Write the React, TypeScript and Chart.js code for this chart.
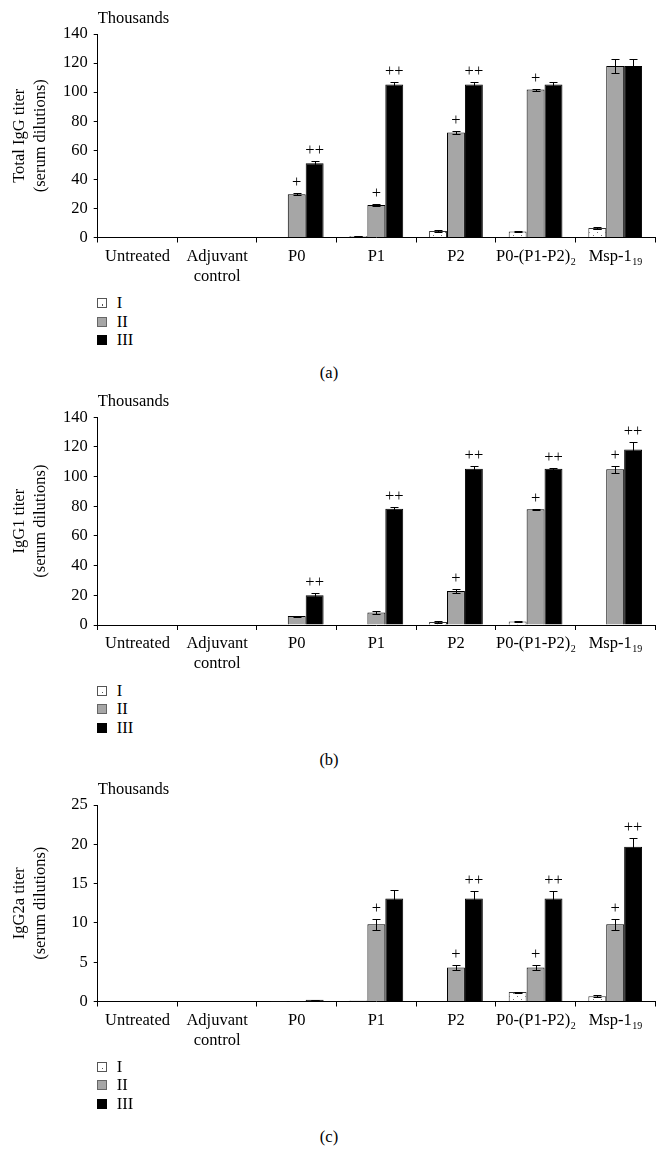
import React, { useEffect, useRef } from 'react';
import { Chart, registerables } from 'chart.js';

Chart.register(...registerables);

const FONT = '"Liberation Serif", "Times New Roman", serif';
const FS = 16.5;

// ---------- shared categories / series ----------
const categoryLines: string[][] = [
  ['Untreated'],
  ['Adjuvant', 'control'],
  ['P0'],
  ['P1'],
  ['P2'],
  ['P0-(P1-P2)'],
  ['Msp-1'],
];
const categorySubscripts = ['', '', '', '', '', '2', '19'];
const seriesNames = ['I', 'II', 'III'];
const noMarks = ['', '', '', '', '', '', ''];

// ---------- (a) Total IgG titer, thousands ----------
const totalIgG_I = [0, 0, 0.3, 1.0, 4.5, 4.1, 6.6];
const totalIgG_II = [0, 0, 29.7, 22.3, 72.3, 101.8, 118];
const totalIgG_III = [0, 0, 51, 105.3, 105.3, 105.3, 118];
const totalIgG_errI = [0, 0, 0, 0.3, 0.6, 0.5, 0.7];
const totalIgG_errII = [0, 0, 0.6, 0.8, 1.3, 0.7, 5];
const totalIgG_errIII = [0, 0, 1.6, 1.8, 1.8, 1.8, 5];
const totalIgG_marksII = ['', '', '+', '+', '+', '+', ''];
const totalIgG_marksIII = ['', '', '++', '++', '++', '', ''];
const totalIgG_ticks = { max: 140, step: 20 };

// ---------- (b) IgG1 titer, thousands ----------
const igG1_I = [0, 0, 0.2, 0.4, 2.0, 2.4, 0.4];
const igG1_II = [0, 0, 6, 8.5, 23, 78, 105];
const igG1_III = [0, 0, 20, 78.3, 105.3, 105.3, 118.3];
const igG1_errI = [0, 0, 0, 0, 0.6, 0.3, 0];
const igG1_errII = [0, 0, 0.4, 1, 1.6, 0.3, 2.5];
const igG1_errIII = [0, 0, 1.5, 1.5, 1.8, 0.8, 5];
const igG1_marksII = ['', '', '', '', '+', '+', '+'];
const igG1_marksIII = ['', '', '++', '++', '++', '++', '++'];
const igG1_ticks = { max: 140, step: 20 };

// ---------- (c) IgG2a titer, thousands ----------
const igG2a_I = [0, 0, 0.02, 0.13, 0.05, 1.2, 0.68];
const igG2a_II = [0, 0, 0.03, 9.82, 4.34, 4.34, 9.82];
const igG2a_III = [0, 0, 0.21, 13.1, 13.1, 13.1, 19.7];
const igG2a_errI = [0, 0, 0, 0, 0, 0.06, 0.15];
const igG2a_errII = [0, 0, 0, 0.68, 0.3, 0.3, 0.7];
const igG2a_errIII = [0, 0, 0.03, 1.06, 0.9, 0.9, 1.06];
const igG2a_marksII = ['', '', '', '+', '+', '+', '+'];
const igG2a_marksIII = ['', '', '', '', '++', '++', '++'];
const igG2a_ticks = { max: 25, step: 5 };

const yTitles = [
  ['Total IgG titer', '(serum dilutions)'],
  ['IgG1 titer', '(serum dilutions)'],
  ['IgG2a titer', '(serum dilutions)'],
];
const captions = ['(a)', '(b)', '(c)'];

// ---------- layout (pixels) ----------
interface PanelCfg {
  top: number;
  height: number;
  areaTop: number;
  areaBottom: number;
  legendY: number[];
  captionY: number;
  values: number[][];
  errors: number[][];
  marks: string[][];
  max: number;
  step: number;
  yTitle: string[];
  caption: string;
}

const panels: PanelCfg[] = [
  {
    top: 0, height: 290, areaTop: 34, areaBottom: 237.5,
    legendY: [303, 321.7, 340], captionY: 372.7,
    values: [totalIgG_I, totalIgG_II, totalIgG_III],
    errors: [totalIgG_errI, totalIgG_errII, totalIgG_errIII],
    marks: [noMarks, totalIgG_marksII, totalIgG_marksIII],
    max: totalIgG_ticks.max, step: totalIgG_ticks.step,
    yTitle: yTitles[0], caption: captions[0],
  },
  {
    top: 380, height: 290, areaTop: 37.3, areaBottom: 245,
    legendY: [690.7, 709, 727.7], captionY: 760,
    values: [igG1_I, igG1_II, igG1_III],
    errors: [igG1_errI, igG1_errII, igG1_errIII],
    marks: [noMarks, igG1_marksII, igG1_marksIII],
    max: igG1_ticks.max, step: igG1_ticks.step,
    yTitle: yTitles[1], caption: captions[1],
  },
  {
    top: 770, height: 290, areaTop: 35, areaBottom: 231.5,
    legendY: [1066.7, 1085, 1104], captionY: 1136.7,
    values: [igG2a_I, igG2a_II, igG2a_III],
    errors: [igG2a_errI, igG2a_errII, igG2a_errIII],
    marks: [noMarks, igG2a_marksII, igG2a_marksIII],
    max: igG2a_ticks.max, step: igG2a_ticks.step,
    yTitle: yTitles[2], caption: captions[2],
  },
];

const PLOT_LEFT = 97.7;
const PLOT_RIGHT = 655;
const WIDTH = 666;

function makeDotPattern(ctx: CanvasRenderingContext2D): CanvasPattern | string {
  const c = document.createElement('canvas');
  c.width = 8;
  c.height = 6;
  const p = c.getContext('2d');
  if (!p) return '#fff';
  p.fillStyle = '#fff';
  p.fillRect(0, 0, 8, 6);
  p.fillStyle = '#777';
  p.fillRect(1, 1, 1, 1);
  p.fillRect(5, 4, 1, 1);
  return ctx.createPattern(c, 'repeat') || '#fff';
}

function makeOverlayPlugin(cfg: PanelCfg) {
  return {
    id: 'overlay',
    afterDatasetsDraw(chart: any) {
      const ctx: CanvasRenderingContext2D = chart.ctx;
      const ys = chart.scales.y;
      const xs = chart.scales.x;
      const area = chart.chartArea;
      ctx.save();
      ctx.strokeStyle = '#000';
      ctx.fillStyle = '#000';
      ctx.lineWidth = 1;

      // error bars and significance marks
      cfg.values.forEach((vals, s) => {
        const meta = chart.getDatasetMeta(s);
        vals.forEach((v, i) => {
          const bar = meta.data[i];
          if (!bar) return;
          const bx = Math.round(bar.x) + 0.5;
          const e = cfg.errors[s][i];
          let markY = ys.getPixelForValue(v);
          if (e > 0) {
            const yHi = Math.round(ys.getPixelForValue(v + e)) + 0.5;
            const yLo = Math.round(ys.getPixelForValue(Math.max(0, v - e))) + 0.5;
            ctx.beginPath();
            ctx.moveTo(bx, yLo);
            ctx.lineTo(bx, yHi);
            ctx.moveTo(bx - 4, yHi);
            ctx.lineTo(bx + 4, yHi);
            ctx.moveTo(bx - 4, yLo);
            ctx.lineTo(bx + 4, yLo);
            ctx.stroke();
            markY = yHi;
          }
          const m = cfg.marks[s][i];
          if (m) {
            ctx.font = `${FS}px ${FONT}`;
            ctx.textAlign = 'center';
            ctx.textBaseline = 'middle';
            ctx.fillText(m, bar.x, markY - 11);
          }
        });
      });

      // "Thousands"
      ctx.font = `${FS}px ${FONT}`;
      ctx.textAlign = 'left';
      ctx.textBaseline = 'alphabetic';
      ctx.fillText('Thousands', area.left, area.top - 11);

      // y-axis title (two rotated lines)
      const midY = (area.top + area.bottom) / 2;
      ctx.save();
      ctx.translate(30, midY);
      ctx.rotate(-Math.PI / 2);
      ctx.textAlign = 'center';
      ctx.textBaseline = 'middle';
      ctx.fillText(cfg.yTitle[0], 0, -10.5);
      ctx.fillText(cfg.yTitle[1], 0, 10.5);
      ctx.restore();

      // category labels (with subscripts)
      ctx.textBaseline = 'alphabetic';
      ctx.textAlign = 'left';
      categoryLines.forEach((lines, i) => {
        const cx = xs.getPixelForValue(i);
        lines.forEach((line, li) => {
          const base = area.bottom + 23.3 + li * 20;
          const sub = li === lines.length - 1 ? categorySubscripts[i] : '';
          ctx.font = `${FS}px ${FONT}`;
          const w1 = ctx.measureText(line).width;
          ctx.font = `10px ${FONT}`;
          const w2 = sub ? ctx.measureText(sub).width : 0;
          const x0 = cx - (w1 + w2) / 2;
          ctx.font = `${FS}px ${FONT}`;
          ctx.fillText(line, x0, base);
          if (sub) {
            ctx.font = `10px ${FONT}`;
            ctx.fillText(sub, x0 + w1 + 0.5, base + 4);
          }
        });
      });
      ctx.restore();
    },
  };
}

function Panel({ cfg }: { cfg: PanelCfg }) {
  const ref = useRef<HTMLCanvasElement>(null);
  useEffect(() => {
    const canvas = ref.current;
    if (!canvas) return;
    const ctx2d = canvas.getContext('2d') as CanvasRenderingContext2D;
    const dots = makeDotPattern(ctx2d);
    const chart = new Chart(canvas, {
      type: 'bar',
      data: {
        labels: categoryLines.map((l, i) => l.join(' ') + categorySubscripts[i]),
        datasets: cfg.values.map((vals, s) => ({
          label: seriesNames[s],
          data: vals,
          backgroundColor: s === 0 ? (dots as any) : s === 1 ? '#a6a6a6' : '#000000',
          borderColor: s === 0 ? '#333333' : '#000000',
          borderWidth: 1,
          categoryPercentage: 0.675,
          barPercentage: 1,
        })),
      },
      options: {
        responsive: false,
        animation: false,
        devicePixelRatio: 1,
        layout: {
          padding: { left: 0, right: WIDTH - PLOT_RIGHT, top: cfg.areaTop, bottom: 0 },
        },
        plugins: {
          legend: { display: false },
          tooltip: { enabled: false },
          title: { display: false },
        },
        scales: {
          x: {
            grid: {
              display: true,
              drawOnChartArea: false,
              drawTicks: true,
              tickLength: 5,
              color: '#000',
              offset: true,
            },
            border: { display: true, color: '#000', width: 1 },
            ticks: { display: false },
            afterFit: (s: any) => {
              s.height = cfg.height - cfg.areaBottom;
            },
          },
          y: {
            min: 0,
            max: cfg.max,
            ticks: {
              stepSize: cfg.step,
              color: '#000',
              padding: 6,
              font: { family: FONT, size: FS },
            },
            grid: {
              drawOnChartArea: false,
              drawTicks: true,
              tickLength: 4,
              color: '#000',
            },
            border: { display: true, color: '#000', width: 1 },
            afterFit: (s: any) => {
              s.width = PLOT_LEFT;
            },
          },
        },
      } as any,
      plugins: [makeOverlayPlugin(cfg)],
    });
    return () => chart.destroy();
  }, [cfg]);

  return (
    <canvas
      ref={ref}
      width={WIDTH}
      height={cfg.height}
      style={{ position: 'absolute', left: 0, top: cfg.top, width: WIDTH, height: cfg.height }}
    />
  );
}

function LegendBox({ s }: { s: number }) {
  const base: React.CSSProperties = {
    position: 'absolute',
    left: 0,
    top: 0,
    width: 10,
    height: 10,
    boxSizing: 'border-box',
  };
  if (s === 0) {
    return (
      <div style={{ ...base, background: '#fff', border: '1.5px solid #555' }}>
        <div style={{ position: 'absolute', left: 3.5, top: 5, width: 1.5, height: 1.5, background: '#555' }} />
      </div>
    );
  }
  if (s === 1) {
    return <div style={{ ...base, background: '#a6a6a6', border: '1.5px solid #666' }} />;
  }
  return <div style={{ ...base, background: '#000', border: '1.5px solid #000' }} />;
}

function Legend({ cfg }: { cfg: PanelCfg }) {
  return (
    <>
      {seriesNames.map((name, s) => (
        <React.Fragment key={name}>
          <div style={{ position: 'absolute', left: 97, top: cfg.legendY[s] - 5, width: 10, height: 10 }}>
            <LegendBox s={s} />
          </div>
          <div
            style={{
              position: 'absolute',
              left: 116.7,
              top: cfg.legendY[s] - 9,
              height: 18,
              lineHeight: '18px',
              fontFamily: FONT,
              fontSize: FS,
              color: '#000',
              whiteSpace: 'nowrap',
            }}
          >
            {name}
          </div>
        </React.Fragment>
      ))}
      <div
        style={{
          position: 'absolute',
          left: 279,
          width: 100,
          top: cfg.captionY - 9,
          height: 18,
          lineHeight: '18px',
          textAlign: 'center',
          fontFamily: FONT,
          fontSize: FS,
          color: '#000',
        }}
      >
        {cfg.caption}
      </div>
    </>
  );
}

export default function App() {
  return (
    <div
      style={{
        position: 'absolute',
        left: 0,
        top: 0,
        width: WIDTH,
        height: 1169,
        background: '#fff',
        overflow: 'hidden',
      }}
    >
      {panels.map((cfg, i) => (
        <React.Fragment key={i}>
          <Panel cfg={cfg} />
          <Legend cfg={cfg} />
        </React.Fragment>
      ))}
    </div>
  );
}
